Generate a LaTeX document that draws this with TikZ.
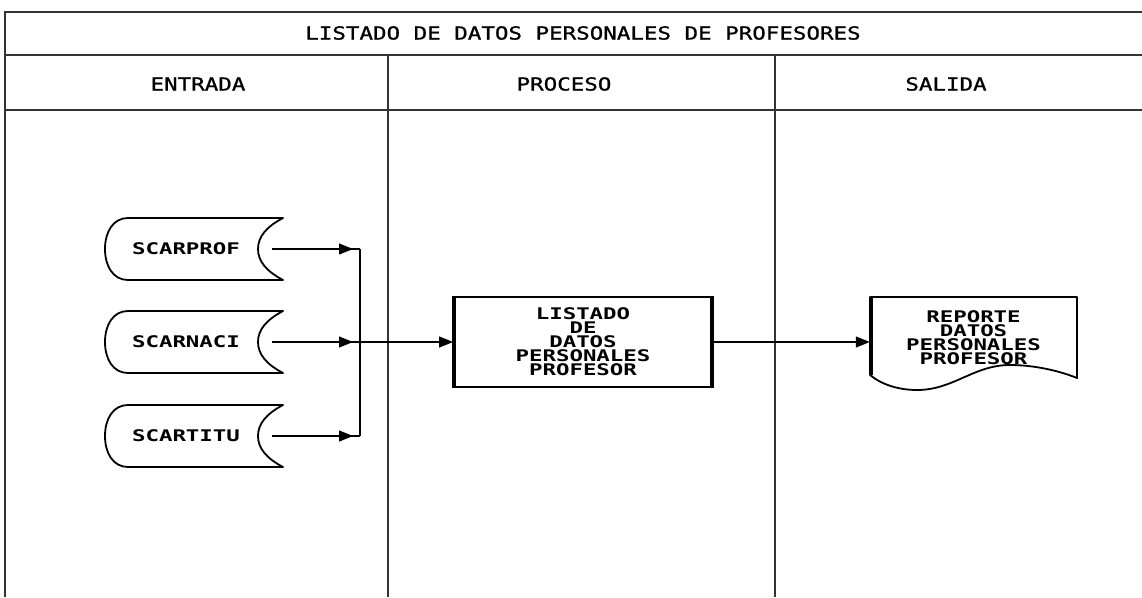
\documentclass[tikz,border=0pt]{standalone}
\usepackage{fontspec}
\newfontfamily\hdrfont[FakeStretch=1.25,FakeBold=1]{DejaVu Sans Mono}
\newfontfamily\boxfont[FakeStretch=1.4]{DejaVu Sans Mono}
\usetikzlibrary{arrows.meta}
\newcommand\storeshape[1]{%
  \draw[shp,shift={(#1.center)}] (-58,-31) -- (97,-31)
    .. controls (80,-22) and (72,-12) .. (72,0)
    .. controls (72,12) and (80,22) .. (97,31) -- (-58,31)
    .. controls (-73,31) and (-81,17) .. (-81,0)
    .. controls (-81,-17) and (-73,-31) .. (-58,-31) -- cycle;}
\begin{document}
\begin{tikzpicture}[x=1pt,y=-1pt,
 frame/.style={line width=1.1pt, draw=black!80},
 hdr/.style={font={\hdrfont\fontsize{18}{20}\selectfont}, inner sep=0pt},
 lbl/.style={font={\boxfont\bfseries\fontsize{16}{14}\selectfont}, inner sep=0pt, align=center},
 shp/.style={line width=1.8pt, line join=round},
 side/.style={line width=3.6pt},
 conn/.style={line width=1.2pt},
 tip/.style={conn, -{Triangle[length=14pt,width=11pt]}}
]
\useasboundingbox (0,0) rectangle (1142,597);
% frame
\draw[frame] (5,597) -- (5,12) -- (1142,12);
\draw[frame] (5,55) -- (1142,55);
\draw[frame] (5,110) -- (1142,110);
\draw[frame] (388,55) -- (388,597);
\draw[frame] (775,55) -- (775,597);
\node[hdr] (title) at (583,33) {LISTADO DE DATOS PERSONALES DE PROFESORES};
\node[hdr] (hin) at (198,84) {ENTRADA};
\node[hdr] (hpr) at (564,84) {PROCESO};
\node[hdr] (hout) at (946,84) {SALIDA};
% stored data
\node[lbl] (prof) at (186,249) {SCARPROF};
\node[lbl] (naci) at (186,342) {SCARNACI};
\node[lbl] (titu) at (186,436) {SCARTITU};
\storeshape{prof}
\storeshape{naci}
\storeshape{titu}
% process
\node[lbl, draw, shp, minimum width=258pt, minimum height=90pt] (proc) at (583,342)
  {LISTADO\\DE\\DATOS\\PERSONALES\\PROFESOR};
\draw[side] ([xshift=0.9pt]proc.north west) -- ([xshift=0.9pt]proc.south west);
\draw[side] ([xshift=-0.9pt]proc.north east) -- ([xshift=-0.9pt]proc.south east);
% document
\node[lbl, minimum width=207pt, minimum height=81pt] (doc) at (973.5,337.5)
  {REPORTE\\DATOS\\PERSONALES\\PROFESOR};
\draw[shp,shift={(doc.center)}] (-103.5,37.5) -- (-103.5,-40.5) -- (103.5,-40.5) -- (103.5,40.5)
  .. controls (85,33) and (60,27.5) .. (36.5,27.5)
  .. controls (0,27.5) and (-20,52.5) .. (-56.5,52.5)
  .. controls (-75,52.5) and (-92,47) .. (-103.5,37.5);
\draw[side] ([xshift=0.9pt]doc.north west) -- ([xshift=0.9pt,yshift=-37.5pt]doc.west);
% connectors
\coordinate (b1) at (360,249);
\coordinate (b2) at (360,342);
\coordinate (b3) at (360,436);
\draw[conn] ([xshift=86pt]prof.center) -- (b1);
\draw[conn] ([xshift=86pt]naci.center) -- (b2);
\draw[conn] ([xshift=86pt]titu.center) -- (b3);
\draw[tip] ([xshift=86pt]prof.center) -- ([xshift=-7pt]b1);
\draw[tip] ([xshift=86pt]naci.center) -- ([xshift=-7pt]b2);
\draw[tip] ([xshift=86pt]titu.center) -- ([xshift=-7pt]b3);
\draw[conn] (b1) -- (b3);
\draw[tip] (b2) -- (proc.west);
\draw[tip] (proc.east) -- (proc.east -| doc.west);
\end{tikzpicture}
\end{document}
